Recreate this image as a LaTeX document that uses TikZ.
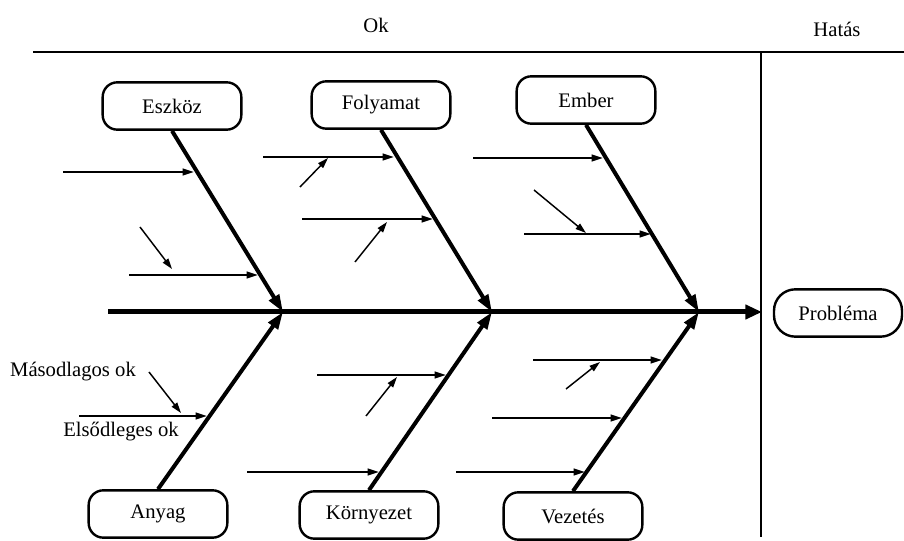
\documentclass[tikz,border=0pt]{standalone}
\usepackage{fontspec}
\setmainfont{Liberation Serif}
\usetikzlibrary{arrows.meta,calc,positioning}
\tikzstyle{box}     =[draw, rounded corners=11pt, line width=1.8pt,
                      minimum width=104pt, minimum height=35.5pt,
                      inner sep=0pt, font=\fontsize{15.5}{18}\selectfont]
\tikzstyle{txt}     =[inner sep=1pt, fill=none, draw=none,
                      font=\fontsize{15.5}{18}\selectfont]
\tikzstyle{spine}   =[line width=3.75pt,
                      -{Triangle[length=12.5pt,width=10.5pt]}]
\tikzstyle{bone}    =[line width=3pt,
                      -{Triangle[length=13pt,width=8.5pt]}]
\tikzstyle{cause}   =[line width=1.5pt,
                      -{Triangle[length=8.5pt,width=5pt]}]
\tikzstyle{subcause}=[line width=1.1pt,
                      -{Triangle[length=8pt,width=5pt]}]
\tikzstyle{frame}   =[line width=1.5pt]

\begin{document}
\begin{tikzpicture}[x=0.75pt, y=-0.75pt]
    \useasboundingbox (0,0) rectangle (904,541);
    \begin{scope}
        \node (ok)   [txt] at (376,25) {Ok};
        \node (hat)  [txt] at (837,29) {Hatás};
        \coordinate (fl) at (33,52);
        \coordinate (fr) at (904,52);
        \coordinate (vt) at (761,52);
        \coordinate (vb) at (761,537);
        \draw[frame] (fl) to (fr);
        \draw[frame] (vt) to (vb);

        \node (esz)  [box] at (172,106) {Eszköz};
        \node (foly) [box] at (381,105) {Folyamat};
        \node (emb)  [box] at (586,100) {Ember};
        \node (any)  [box] at (158,514) {Anyag};
        \node (korn) [box] at (369,515) {Környezet};
        \node (vez)  [box] at (573,516) {Vezetés};
        \node (prob) [box, rounded corners=16pt, minimum width=96pt]
                     at (838,313) {Probléma};

        \coordinate (tail) at (108,312);
        \coordinate (head) at (762,312);
        \coordinate (b1) at (283,312);
        \coordinate (b2) at (492,312);
        \coordinate (b3) at (699,312);
        \draw[spine] (tail) to (head);
        \draw[bone] (esz.south) to (b1);
        \draw[bone] (foly.south) to (b2);
        \draw[bone] (emb.south) to (b3);
        \draw[bone] (any.north) to (b1);
        \draw[bone] (korn.north) to (b2);
        \draw[bone] (vez.north) to (b3);

        \coordinate (e1s) at (63,172);   \coordinate (e1t) at (194,172);
        \coordinate (e2s) at (129,275);  \coordinate (e2t) at (258,275);
        \coordinate (e3s) at (140,227);  \coordinate (e3t) at (172,269);
        \draw[cause] (e1s) to (e1t);
        \draw[cause] (e2s) to (e2t);
        \draw[subcause] (e3s) to (e3t);

        \coordinate (f1s) at (263,157);  \coordinate (f1t) at (394,157);
        \coordinate (f2s) at (302,219);  \coordinate (f2t) at (433,219);
        \coordinate (f3s) at (300,187);  \coordinate (f3t) at (328,158);
        \coordinate (f4s) at (355,262);  \coordinate (f4t) at (387,222);
        \draw[cause] (f1s) to (f1t);
        \draw[cause] (f2s) to (f2t);
        \draw[subcause] (f3s) to (f3t);
        \draw[subcause] (f4s) to (f4t);

        \coordinate (m1s) at (473,158);  \coordinate (m1t) at (603,158);
        \coordinate (m2s) at (524,234);  \coordinate (m2t) at (651,234);
        \coordinate (m3s) at (534,190);  \coordinate (m3t) at (586,233);
        \draw[cause] (m1s) to (m1t);
        \draw[cause] (m2s) to (m2t);
        \draw[subcause] (m3s) to (m3t);

        \coordinate (a1s) at (79,416);   \coordinate (a1t) at (207,416);
        \coordinate (a2s) at (149,372);  \coordinate (a2t) at (181,413);
        \draw[cause] (a1s) to (a1t);
        \draw[subcause] (a2s) to (a2t);
        \node (mas)  [txt] at (73,372) {Másodlagos ok};
        \node (els)  [txt] at (121,432) {Elsődleges ok};

        \coordinate (k1s) at (317,375);  \coordinate (k1t) at (446,375);
        \coordinate (k2s) at (247,472);  \coordinate (k2t) at (379,472);
        \coordinate (k3s) at (366,416);  \coordinate (k3t) at (397,377);
        \draw[cause] (k1s) to (k1t);
        \draw[cause] (k2s) to (k2t);
        \draw[subcause] (k3s) to (k3t);

        \coordinate (v1s) at (533,360);  \coordinate (v1t) at (662,360);
        \coordinate (v2s) at (492,418);  \coordinate (v2t) at (622,418);
        \coordinate (v3s) at (456,472);  \coordinate (v3t) at (585,472);
        \coordinate (v4s) at (566,389);  \coordinate (v4t) at (600,362);
        \draw[cause] (v1s) to (v1t);
        \draw[cause] (v2s) to (v2t);
        \draw[cause] (v3s) to (v3t);
        \draw[subcause] (v4s) to (v4t);
    \end{scope}
\end{tikzpicture}
\end{document}
